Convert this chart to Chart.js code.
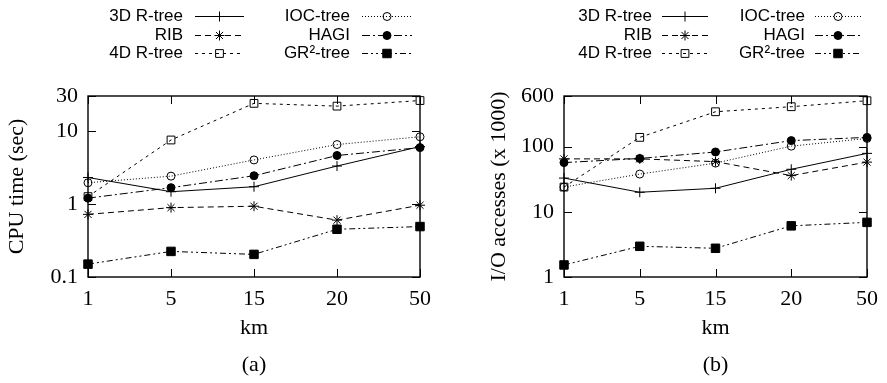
<!DOCTYPE html>
<html>
<head>
<meta charset="utf-8">
<script src="https://cdn.jsdelivr.net/npm/chart.js@4"></script>
<style>
  body { margin: 0; background: #fff; }
  .wrap { position: absolute; top: 0; height: 383px; }
  #cpuWrap { left: 0; width: 440px; }
  #ioWrap { left: 440px; width: 447px; }
</style>
</head>
<body>
<div class="wrap" id="cpuWrap"><canvas id="cpuChart"></canvas></div>
<div class="wrap" id="ioWrap"><canvas id="ioChart"></canvas></div>
<script>
// data
const kmLabels = ["1", "5", "15", "20", "50"];
const seriesNames = ["3D R-tree", "RIB", "4D R-tree", "IOC-tree", "HAGI", "GR\u00B2-tree"];

const cpu3DRtree = [2.3, 1.47, 1.72, 3.3, 6.1];
const cpuRIB = [0.72, 0.89, 0.93, 0.60, 0.96];
const cpu4DRtree = [1.26, 7.5, 23.8, 21.8, 26];
const cpuIOC = [1.95, 2.4, 4.0, 6.5, 8.3];
const cpuHAGI = [1.2, 1.67, 2.43, 4.6, 5.9];
const cpuGR2 = [0.15, 0.224, 0.204, 0.45, 0.49];
const cpuTicks = [0.1, 1, 10, 30];

const io3DRtree = [33, 20, 23, 45, 79];
const ioRIB = [65, 65, 59, 36, 58];
const io4DRtree = [24, 139, 344, 411, 508];
const ioIOC = [24, 38, 56, 102, 134];
const ioHAGI = [57, 66, 83, 124, 139];
const ioGR2 = [1.53, 2.96, 2.76, 6.1, 6.9];
const ioTicks = [1, 10, 100, 600];

// line / marker look of each series
const seriesStyles = [
  { dash: [], point: "cross", radius: 5, filled: false },
  { dash: [6, 4], point: "star", radius: 5, filled: false },
  { dash: [3, 4], point: "rect", radius: 5.5, filled: false },
  { dash: [1, 2], point: "circle", radius: 4, filled: false },
  { dash: [8, 3, 2, 3], point: "circle", radius: 4, filled: true },
  { dash: [6, 3, 2, 3, 2, 3], point: "rect", radius: 6, filled: true }
];

Chart.defaults.font.family = "'Liberation Serif', 'Times New Roman', serif";
Chart.defaults.color = "#000";

// box round the plot plus gnuplot-style inward ticks
const framePlugin = {
  id: "frame",
  beforeDatasetsDraw(chart) {
    const { ctx, chartArea: a, scales } = chart;
    const t = 8;
    ctx.save();
    ctx.strokeStyle = "#000";
    ctx.lineWidth = 1.4;
    ctx.setLineDash([]);
    ctx.strokeRect(a.left, a.top, a.right - a.left, a.bottom - a.top);
    ctx.lineWidth = 1;
    ctx.beginPath();
    scales.y.ticks.forEach(tk => {
      const y = Math.round(scales.y.getPixelForValue(tk.value)) + 0.5;
      ctx.moveTo(a.left, y); ctx.lineTo(a.left + t, y);
      ctx.moveTo(a.right, y); ctx.lineTo(a.right - t, y);
    });
    scales.x.ticks.forEach((tk, i) => {
      const x = Math.round(scales.x.getPixelForTick(i)) + 0.5;
      ctx.moveTo(x, a.bottom); ctx.lineTo(x, a.bottom - t);
      ctx.moveTo(x, a.top); ctx.lineTo(x, a.top + t);
    });
    ctx.stroke();
    ctx.restore();
  }
};

// two-column key above the plot: name, then a sample of the line with its marker
const keyPlugin = {
  id: "key",
  afterDraw(chart, args, opts) {
    const ctx = chart.ctx;
    ctx.save();
    ctx.font = "17px 'Liberation Sans', Arial, sans-serif";
    ctx.textBaseline = "middle";
    ctx.textAlign = "right";
    chart.data.datasets.forEach((ds, i) => {
      const col = opts.cols[Math.floor(i / 3)];
      const y = opts.rows[i % 3];
      ctx.fillStyle = "#000";
      ctx.fillText(ds.label, col.textRight, y);
      ctx.strokeStyle = "#000";
      ctx.lineWidth = 1;
      ctx.setLineDash(ds.borderDash);
      ctx.beginPath();
      ctx.moveTo(col.x0, y + 0.5);
      ctx.lineTo(col.x1, y + 0.5);
      ctx.stroke();
      ctx.setLineDash([]);
      ctx.fillStyle = ds.pointBackgroundColor;
      Chart.helpers.drawPoint(ctx, {
        pointStyle: ds.pointStyle,
        radius: ds.pointRadius,
        rotation: 0,
        borderWidth: 1
      }, (col.x0 + col.x1) / 2, y + 0.5);
    });
    ctx.restore();
  }
};

function makeDatasets(seriesValues) {
  return seriesValues.map((vals, i) => {
    const s = seriesStyles[i];
    return {
      label: seriesNames[i],
      data: vals,
      borderColor: "#000",
      borderWidth: 1,
      borderDash: s.dash,
      pointStyle: s.point,
      pointRadius: s.radius,
      pointBorderWidth: 1,
      pointBorderColor: "#000",
      pointBackgroundColor: s.filled ? "#000" : "rgba(0,0,0,0)",
      tension: 0,
      clip: false
    };
  });
}

function makeChart(canvasId, seriesValues, yMin, yMax, yTicks, yTitle, panel, layout, key) {
  return new Chart(document.getElementById(canvasId), {
    type: "line",
    data: { labels: kmLabels, datasets: makeDatasets(seriesValues) },
    options: {
      responsive: true,
      maintainAspectRatio: false,
      animation: false,
      layout: { padding: { left: layout.left, top: 96, right: layout.right, bottom: 0 } },
      plugins: {
        legend: { display: false },
        tooltip: { enabled: false },
        key: key
      },
      scales: {
        x: {
          offset: false,
          grid: { display: false, drawTicks: false },
          border: { display: false },
          ticks: { font: { size: 22 }, padding: 9, maxRotation: 0, autoSkip: false },
          title: {
            display: true,
            text: ["km", panel],
            font: { size: 22, lineHeight: 1.65 },
            padding: { top: 0, bottom: 0 }
          },
          afterFit: scale => { scale.height = 106; }
        },
        y: {
          type: "logarithmic",
          min: yMin,
          max: yMax,
          grid: { display: false, drawTicks: false },
          border: { display: false },
          afterBuildTicks: scale => { scale.ticks = yTicks.map(v => ({ value: v })); },
          ticks: { font: { size: 22 }, padding: 10, autoSkip: false, callback: v => String(v) },
          title: {
            display: true,
            text: yTitle,
            font: { size: 22, lineHeight: 1.2 },
            padding: { top: 0, bottom: 0 }
          },
          afterFit: scale => { scale.width = layout.axisWidth; }
        }
      }
    },
    plugins: [framePlugin, keyPlugin]
  });
}

// (a) CPU time
const cpuChart = makeChart("cpuChart",
  [cpu3DRtree, cpuRIB, cpu4DRtree, cpuIOC, cpuHAGI, cpuGR2],
  0.1, 30, cpuTicks, "CPU time (sec)", "(a)",
  { left: 4, right: 16, axisWidth: 84 },
  { rows: [16, 35, 53], cols: [{ textRight: 183, x0: 195, x1: 244 }, { textRight: 350, x0: 362, x1: 412 }] });

// (b) I/O accesses
const ioChart = makeChart("ioChart",
  [io3DRtree, ioRIB, io4DRtree, ioIOC, ioHAGI, ioGR2],
  1, 600, ioTicks, "I/O accesses (x 1000)", "(b)",
  { left: 46, right: 14, axisWidth: 78 },
  { rows: [16, 35, 53], cols: [{ textRight: 212, x0: 222, x1: 268 }, { textRight: 365, x0: 375, x1: 421 }] });
</script>
</body>
</html>
